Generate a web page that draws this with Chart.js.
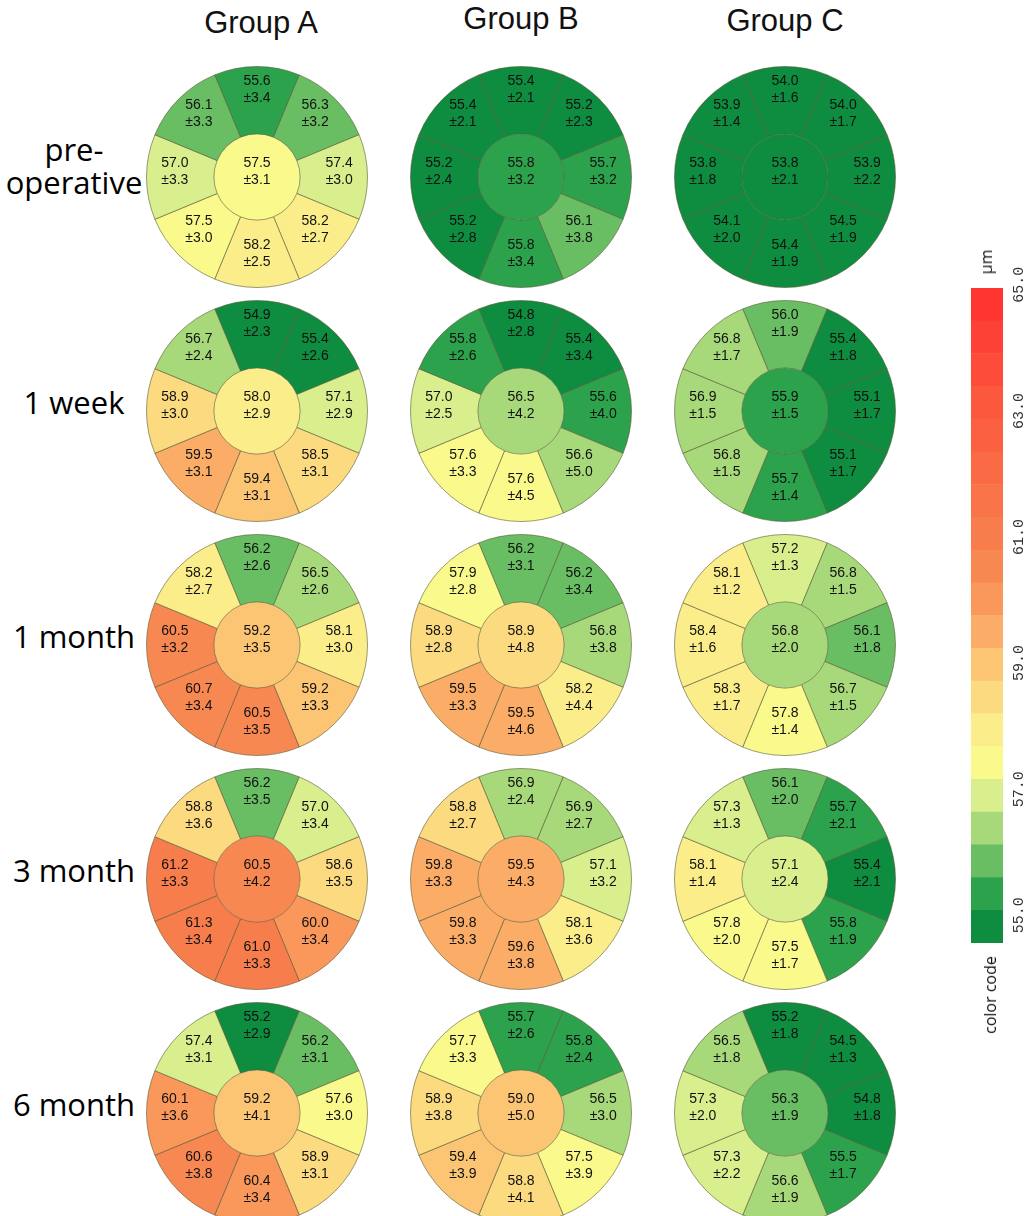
<!DOCTYPE html>
<html>
<head>
<meta charset="utf-8">
<script src="https://cdn.jsdelivr.net/npm/chart.js@4.4.0/dist/chart.umd.min.js"></script>
<style>
    body { margin: 0; background: #fff; }
    #page { position: relative; width: 1030px; height: 1216px; overflow: hidden; }
    .title { position: absolute; width: 200px; text-align: center; font: 31px "Liberation Sans", Arial, sans-serif; line-height: 31px; color: #111; }
    .row-label { position: absolute; left: 0; width: 148px; text-align: center; font: 31px "Open Sans", sans-serif; line-height: 33px; color: #000; }
    .cell { position: absolute; }
    .bar-title { position: absolute; font: 16px "Open Sans", sans-serif; color: #111; white-space: nowrap; transform: translate(-50%, -50%) rotate(-90deg); }
</style>
</head>
<body>
<div id="page"></div>
<script>
// THICKNESS MAPS - 3 groups x 5 timepoints, center + 8 sectors each

const GROUPS = ['Group A', 'Group B', 'Group C'];
const TIMEPOINTS = [['pre-', 'operative'], ['1 week'], ['1 month'], ['3 month'], ['6 month']];

// cell order: center, then outer ring clockwise starting at the top
const meanA = [
    [57.5, 55.6, 56.3, 57.4, 58.2, 58.2, 57.5, 57.0, 56.1],
    [58.0, 54.9, 55.4, 57.1, 58.5, 59.4, 59.5, 58.9, 56.7],
    [59.2, 56.2, 56.5, 58.1, 59.2, 60.5, 60.7, 60.5, 58.2],
    [60.5, 56.2, 57.0, 58.6, 60.0, 61.0, 61.3, 61.2, 58.8],
    [59.2, 55.2, 56.2, 57.6, 58.9, 60.4, 60.6, 60.1, 57.4]
];
const sdA = [
    [3.1, 3.4, 3.2, 3.0, 2.7, 2.5, 3.0, 3.3, 3.3],
    [2.9, 2.3, 2.6, 2.9, 3.1, 3.1, 3.1, 3.0, 2.4],
    [3.5, 2.6, 2.6, 3.0, 3.3, 3.5, 3.4, 3.2, 2.7],
    [4.2, 3.5, 3.4, 3.5, 3.4, 3.3, 3.4, 3.3, 3.6],
    [4.1, 2.9, 3.1, 3.0, 3.1, 3.4, 3.8, 3.6, 3.1]
];
const meanB = [
    [55.8, 55.4, 55.2, 55.7, 56.1, 55.8, 55.2, 55.2, 55.4],
    [56.5, 54.8, 55.4, 55.6, 56.6, 57.6, 57.6, 57.0, 55.8],
    [58.9, 56.2, 56.2, 56.8, 58.2, 59.5, 59.5, 58.9, 57.9],
    [59.5, 56.9, 56.9, 57.1, 58.1, 59.6, 59.8, 59.8, 58.8],
    [59.0, 55.7, 55.8, 56.5, 57.5, 58.8, 59.4, 58.9, 57.7]
];
const sdB = [
    [3.2, 2.1, 2.3, 3.2, 3.8, 3.4, 2.8, 2.4, 2.1],
    [4.2, 2.8, 3.4, 4.0, 5.0, 4.5, 3.3, 2.5, 2.6],
    [4.8, 3.1, 3.4, 3.8, 4.4, 4.6, 3.3, 2.8, 2.8],
    [4.3, 2.4, 2.7, 3.2, 3.6, 3.8, 3.3, 3.3, 2.7],
    [5.0, 2.6, 2.4, 3.0, 3.9, 4.1, 3.9, 3.8, 3.3]
];
const meanC = [
    [53.8, 54.0, 54.0, 53.9, 54.5, 54.4, 54.1, 53.8, 53.9],
    [55.9, 56.0, 55.4, 55.1, 55.1, 55.7, 56.8, 56.9, 56.8],
    [56.8, 57.2, 56.8, 56.1, 56.7, 57.8, 58.3, 58.4, 58.1],
    [57.1, 56.1, 55.7, 55.4, 55.8, 57.5, 57.8, 58.1, 57.3],
    [56.3, 55.2, 54.5, 54.8, 55.5, 56.6, 57.3, 57.3, 56.5]
];
const sdC = [
    [2.1, 1.6, 1.7, 2.2, 1.9, 1.9, 2.0, 1.8, 1.4],
    [1.5, 1.9, 1.8, 1.7, 1.7, 1.4, 1.5, 1.5, 1.7],
    [2.0, 1.3, 1.5, 1.8, 1.5, 1.4, 1.7, 1.6, 1.2],
    [2.4, 2.0, 2.1, 2.1, 1.9, 1.7, 2.0, 1.4, 1.3],
    [1.9, 1.8, 1.3, 1.8, 1.7, 1.9, 2.2, 2.0, 1.8]
];

// color code: 0.5 um bands from 55.0 to 65.0
const SCALE_MIN = 55.0;
const SCALE_MAX = 65.0;
const SCALE_STEP = 0.5;
const SCALE_COLORS = [
    '#0e8c3f', '#2ca24c', '#69be64', '#a7d97b', '#d9ef8d',
    '#fafa8c', '#fbee8a', '#fcda80', '#fcc574', '#fbad67',
    '#fa975b', '#f88852', '#f87d4c', '#f97448', '#fa6a44',
    '#fb6141', '#fc583e', '#fd4c3a', '#fe4136', '#ff3532'
];
const SCALE_TICKS = [55, 57, 59, 61, 63, 65];

const MEANS = [meanA, meanB, meanC];
const SDS = [sdA, sdB, sdC];

const COL_X = [257, 521, 785];
const ROW_Y = [177, 411, 645, 879, 1113];
const CELL_SIZE = 228;
const EDGE = 'rgba(90, 90, 55, 0.6)';

const page = document.getElementById('page');

function colorFor(v) {
    const tenths = Math.round((v - SCALE_MIN) * 10);
    let idx = Math.floor(tenths / (SCALE_STEP * 10));
    idx = Math.max(0, Math.min(SCALE_COLORS.length - 1, idx));
    return SCALE_COLORS[idx];
}

/**
 * Writes mean / ±sd inside every arc, using the arc geometry from Chart.js
 */
const cellLabels = {
    id: 'cellLabels',
    afterDatasetsDraw(chart, args, opts) {
        const ctx = chart.ctx;
        ctx.save();
        ctx.font = '14px "Liberation Sans", Arial, sans-serif';
        ctx.fillStyle = '#111';
        ctx.textAlign = 'center';
        ctx.textBaseline = 'middle';
        chart.data.datasets.forEach((ds, di) => {
            chart.getDatasetMeta(di).data.forEach((arc, i) => {
                const p = arc.getProps(['x', 'y', 'startAngle', 'endAngle', 'innerRadius', 'outerRadius'], true);
                let x = p.x;
                let y = p.y;
                if (di === 0) {
                    const a = (p.startAngle + p.endAngle) / 2;
                    const r = p.innerRadius + 0.58 * (p.outerRadius - p.innerRadius);
                    x += Math.cos(a) * r;
                    y += Math.sin(a) * r;
                }
                const k = ds.cells[i];
                ctx.fillText(opts.means[k].toFixed(1), x, y - 14);
                ctx.fillText('\u00b1' + opts.sds[k].toFixed(1), x, y + 3);
            });
        });
        ctx.restore();
    }
};

function addText(cls, html, style) {
    const d = document.createElement('div');
    d.className = cls;
    d.innerHTML = html;
    Object.assign(d.style, style);
    page.appendChild(d);
    return d;
}

// column titles
const TITLE_TOP = [7, 3, 5];
GROUPS.forEach((g, c) => {
    addText('title', g, { left: (COL_X[c] - 100 + (c === 0 ? 4 : 0)) + 'px', top: TITLE_TOP[c] + 'px' });
});

// row labels
TIMEPOINTS.forEach((t, r) => {
    const top = ROW_Y[r] - 25 - (t.length - 1) * 19;
    addText('row-label', t.join('<br>'), { top: top + 'px' });
});

/**
 * Create one thickness map (doughnut: outer ring of 8 sectors + center disk)
 */
function createMap(g, r) {
    const means = MEANS[g][r];
    const sds = SDS[g][r];
    const ring = [1, 2, 3, 4, 5, 6, 7, 8];

    const canvas = document.createElement('canvas');
    canvas.width = CELL_SIZE;
    canvas.height = CELL_SIZE;
    canvas.className = 'cell';
    canvas.style.left = (COL_X[g] - CELL_SIZE / 2) + 'px';
    canvas.style.top = (ROW_Y[r] - CELL_SIZE / 2) + 'px';
    page.appendChild(canvas);

    return new Chart(canvas.getContext('2d'), {
        type: 'doughnut',
        data: {
            labels: ring.map(String),
            datasets: [
                {
                    data: ring.map(() => 1),
                    cells: ring,
                    backgroundColor: ring.map(k => colorFor(means[k])),
                    borderColor: EDGE,
                    borderWidth: 1,
                    weight: 1
                },
                {
                    data: [1],
                    cells: [0],
                    backgroundColor: [colorFor(means[0])],
                    borderWidth: 0,
                    weight: 0.64
                }
            ]
        },
        options: {
            responsive: false,
            animation: false,
            events: [],
            cutout: 0,
            rotation: -22.5,
            hoverOffset: 0,
            offset: 0,
            layout: { padding: 3 },
            plugins: {
                legend: { display: false },
                tooltip: { enabled: false },
                cellLabels: { means, sds }
            }
        },
        plugins: [cellLabels]
    });
}

for (let g = 0; g < GROUPS.length; g++) {
    for (let r = 0; r < TIMEPOINTS.length; r++) {
        createMap(g, r);
    }
}

// color code bar
const barTicks = {
    id: 'barTicks',
    afterDraw(chart) {
        const s = chart.scales.yTick;
        const ctx = chart.ctx;
        ctx.save();
        ctx.font = '15px "Liberation Mono", monospace';
        ctx.fillStyle = '#333';
        ctx.textAlign = 'center';
        ctx.textBaseline = 'middle';
        SCALE_TICKS.forEach(v => {
            ctx.save();
            ctx.translate(chart.chartArea.right + 16, s.getPixelForValue(v));
            ctx.rotate(-Math.PI / 2);
            ctx.fillText(v.toFixed(1), 0, 0);
            ctx.restore();
        });
        ctx.restore();
    }
};

function createColorBar() {
    const canvas = document.createElement('canvas');
    canvas.width = 75;
    canvas.height = 800;
    canvas.className = 'cell';
    canvas.style.left = '955px';
    canvas.style.top = '250px';
    page.appendChild(canvas);

    return new Chart(canvas.getContext('2d'), {
        type: 'bar',
        data: {
            labels: [''],
            datasets: SCALE_COLORS.map((c, i) => ({
                data: [[SCALE_MIN + i * SCALE_STEP, SCALE_MIN + (i + 1) * SCALE_STEP]],
                backgroundColor: c,
                borderWidth: 0,
                grouped: false,
                barPercentage: 1,
                categoryPercentage: 1
            }))
        },
        options: {
            responsive: false,
            animation: false,
            events: [],
            layout: { padding: { left: 16, right: 27, top: 38, bottom: 107 } },
            plugins: { legend: { display: false }, tooltip: { enabled: false } },
            scales: {
                x: { display: false },
                y: { display: false, min: SCALE_MIN, max: SCALE_MAX },
                yTick: { axis: 'y', display: false, min: 54.56, max: 64.95 }
            }
        },
        plugins: [barTicks]
    });
}

createColorBar();
addText('bar-title', '\u03bcm', { left: '986px', top: '262px' });
addText('bar-title', 'color code', { left: '990px', top: '995px' });
</script>
</body>
</html>
